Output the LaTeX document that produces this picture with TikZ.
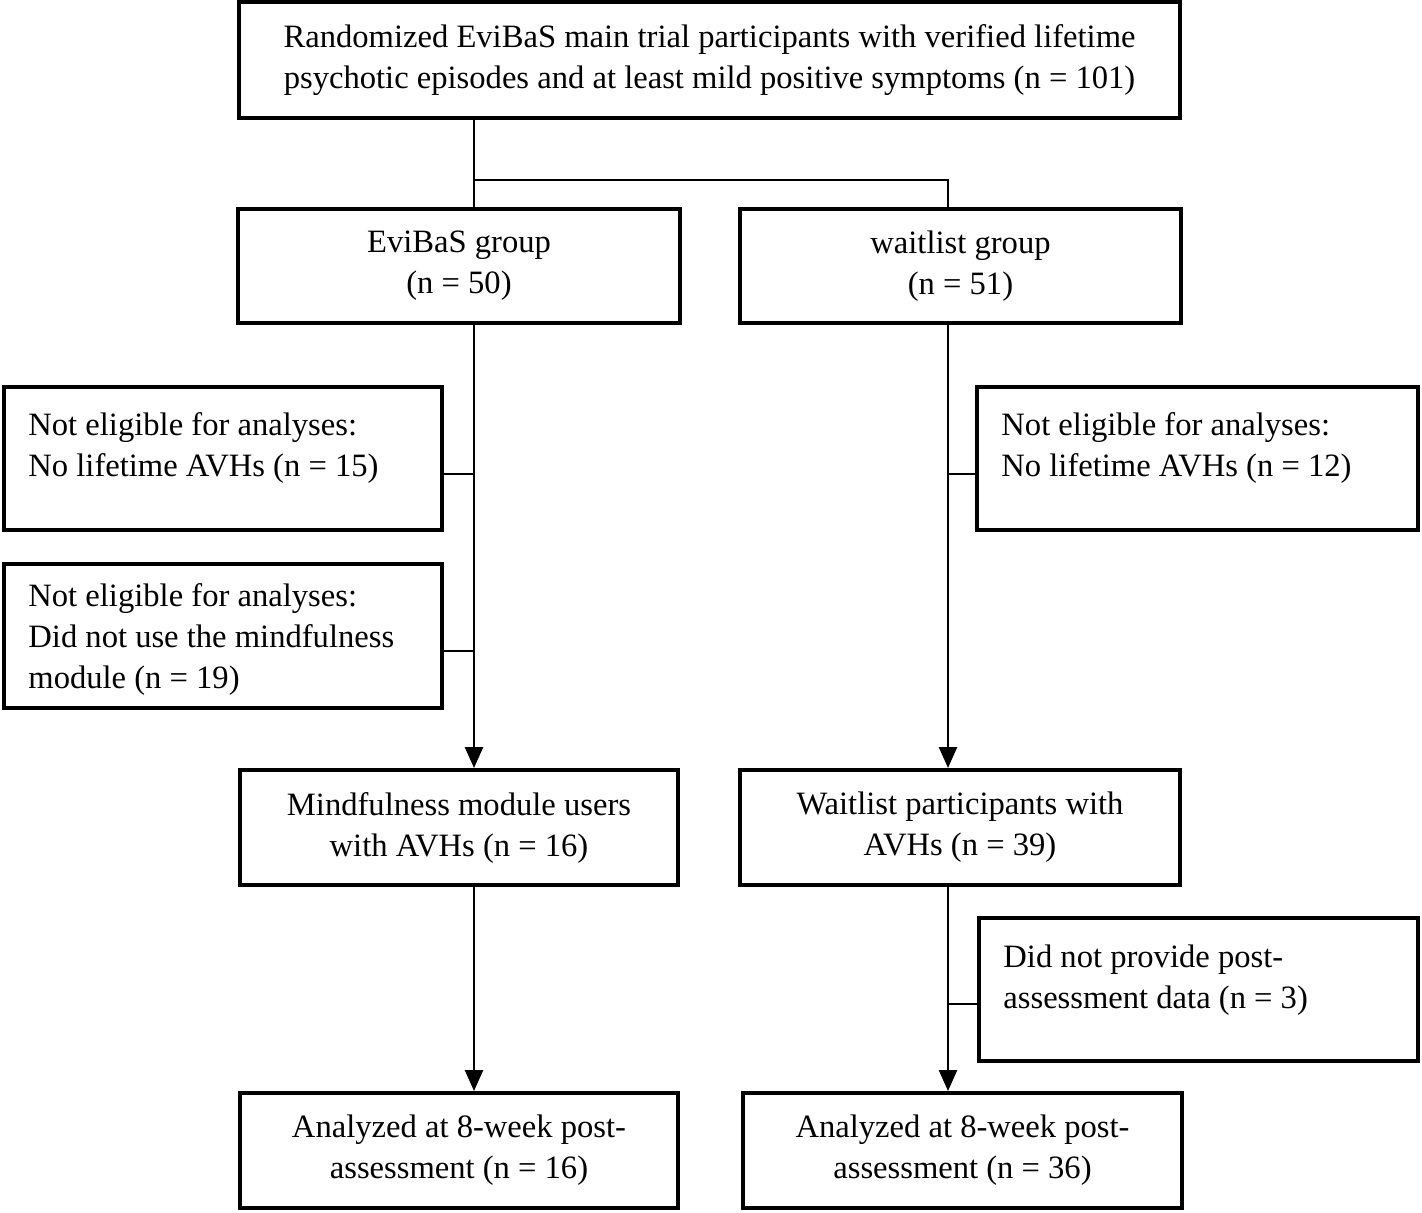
\documentclass[tikz,border=0pt]{standalone}
\usepackage{fontspec}
\setmainfont{Liberation Serif}
\usetikzlibrary{arrows.meta,calc}
\newcommand\fsz{\fontsize{16.3pt}{20.5pt}\selectfont}
\tikzset{
  frame/.style={draw, line width=2pt, inner sep=0pt, font=\fsz, align=center},
  conn/.style={line width=1.3pt},
  arr/.style={conn, -{Triangle[length=10.5pt,width=9pt]}},
  lbl/.style={inner sep=0pt, font=\fsz, align=left, anchor=north west}
}
\begin{document}
\begin{tikzpicture}[x=0.5pt,y=-0.5pt]
\useasboundingbox (0,0) rectangle (1422,1212);
% boxes
\node[frame, minimum width=470.5pt, minimum height=58pt] (top) at (709.5,60)
  {Randomized EviBaS main trial participants with verified lifetime\\psychotic episodes and at least mild positive symptoms (n = 101)};
\node[frame, minimum width=221pt, minimum height=57pt] (evi) at (459,266) {EviBaS group\\(n = 50)};
\node[frame, minimum width=220.5pt, minimum height=57pt] (wl) at (960.5,266) {waitlist group\\(n = 51)};
\node[frame, minimum width=219pt, minimum height=71.5pt] (ne1) at (223,458.5) {};
\node[frame, minimum width=219pt, minimum height=72pt] (ne2) at (223,636) {};
\node[frame, minimum width=220.5pt, minimum height=71.5pt] (ne3) at (1197.5,458.5) {};
\node[frame, minimum width=219pt, minimum height=57.5pt] (mind) at (459,827.5) {Mindfulness module users\\with AVHs (n = 16)};
\node[frame, minimum width=220pt, minimum height=57.5pt] (wp) at (960,827.5) {Waitlist participants with\\AVHs (n = 39)};
\node[frame, minimum width=219.5pt, minimum height=71.5pt] (dnp) at (1198.5,989.5) {};
\node[frame, minimum width=219pt, minimum height=57.5pt] (an1) at (459,1150.5) {Analyzed at 8-week post-\\assessment (n = 16)};
\node[frame, minimum width=219.5pt, minimum height=57.5pt] (an2) at (962.5,1150.5) {Analyzed at 8-week post-\\assessment (n = 36)};
% left-aligned texts
\node[lbl] (ne1t) at (28,412) {Not eligible for analyses:\\No lifetime AVHs (n = 15)};
\node[lbl] (ne2t) at (28,583) {Not eligible for analyses:\\Did not use the mindfulness\\module (n = 19)};
\node[lbl] (ne3t) at (1001,412) {Not eligible for analyses:\\No lifetime AVHs (n = 12)};
\node[lbl] (dnpt) at (1003,944) {Did not provide post-\\assessment data (n = 3)};
% connectors
\coordinate (L) at (474,180);
\coordinate (R) at (948,180);
\draw[conn] (top.south -| L) -- (evi.north -| L);
\draw[conn] (L) -- (R) -- (wl.north -| R);
\draw[arr] (evi.south -| L) -- (mind.north -| L);
\draw[arr] (wl.south -| R) -- (wp.north -| R);
\draw[arr] (mind.south -| L) -- (an1.north -| L);
\draw[arr] (wp.south -| R) -- (an2.north -| R);
\coordinate (c1) at ($(ne1.east)+(0,15.5)$);
\coordinate (c2) at ($(ne2.east)+(0,15)$);
\coordinate (c3) at ($(ne3.west)+(0,15.5)$);
\coordinate (c4) at ($(dnp.west)+(0,14.5)$);
\draw[conn] (c1) -- (c1 -| L);
\draw[conn] (c2) -- (c2 -| L);
\draw[conn] (c3) -- (c3 -| R);
\draw[conn] (c4) -- (c4 -| R);
\end{tikzpicture}
\end{document}
